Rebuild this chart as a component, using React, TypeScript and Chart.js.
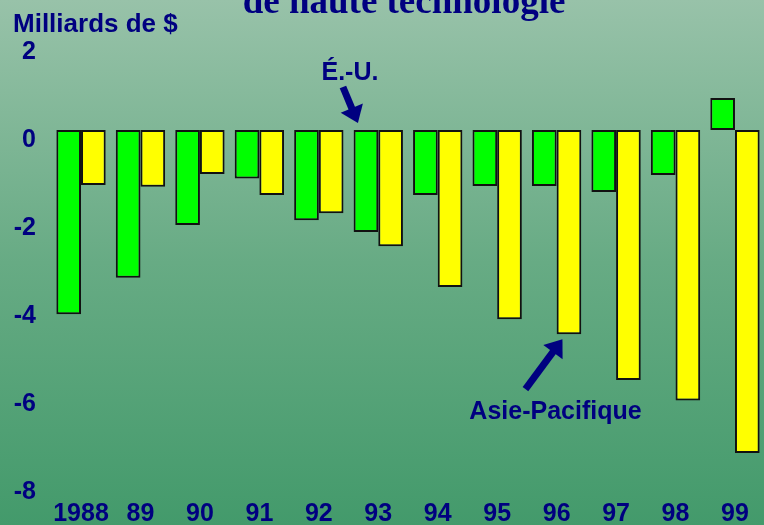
import React, { useEffect, useRef } from "react";
import { Chart, registerables } from "chart.js";

Chart.register(...registerables);

const categories = ["1988", "89", "90", "91", "92", "93", "94", "95", "96", "97", "98", "99"];
const usValues = [-4.19, -3.36, -2.16, -1.1, -2.05, -2.32, -1.48, -1.27, -1.27, -1.41, -1.02, 0.73];
const asiaValues = [-1.25, -1.29, -1.0, -1.48, -1.89, -2.64, -3.57, -4.3, -4.64, -5.68, -6.15, -7.34];
const yMin = -8;
const yMax = 2;
const yStep = 2;

const titleText = "de haute technologie";
const yAxisText = "Milliards de $";
const usLabel = "É.-U.";
const asiaLabel = "Asie-Pacifique";

const NAVY = "#000080";
const SANS = "'Liberation Sans', Arial, sans-serif";

function drawArrow(ctx: CanvasRenderingContext2D, fx: number, fy: number, tx: number, ty: number) {
  const ang = Math.atan2(ty - fy, tx - fx);
  const headLen = 16;
  const headW = 12;
  const bx = tx - Math.cos(ang) * headLen;
  const by = ty - Math.sin(ang) * headLen;
  ctx.save();
  ctx.strokeStyle = NAVY;
  ctx.fillStyle = NAVY;
  ctx.lineWidth = 7;
  ctx.lineCap = "butt";
  ctx.beginPath();
  ctx.moveTo(fx, fy);
  ctx.lineTo(bx + Math.cos(ang) * 2, by + Math.sin(ang) * 2);
  ctx.stroke();
  ctx.beginPath();
  ctx.moveTo(tx, ty);
  ctx.lineTo(bx + Math.cos(ang + Math.PI / 2) * headW, by + Math.sin(ang + Math.PI / 2) * headW);
  ctx.lineTo(bx + Math.cos(ang - Math.PI / 2) * headW, by + Math.sin(ang - Math.PI / 2) * headW);
  ctx.closePath();
  ctx.fill();
  ctx.restore();
}

const decorPlugin = {
  id: "decor",
  beforeDraw(chart: any) {
    const { ctx, width, height } = chart;
    const g = ctx.createLinearGradient(0, 0, 0, height);
    g.addColorStop(0, "#98c2a9");
    g.addColorStop(0.5, "#67ab84");
    g.addColorStop(1, "#439a6b");
    ctx.save();
    ctx.fillStyle = g;
    ctx.fillRect(0, 0, width, height);
    ctx.restore();
  },
  afterDraw(chart: any) {
    const { ctx } = chart;
    const yScale = chart.scales.y;
    ctx.save();
    // title (cut off at top)
    ctx.fillStyle = NAVY;
    ctx.font = "bold 37px 'Liberation Serif', 'Times New Roman', serif";
    ctx.textAlign = "center";
    ctx.textBaseline = "alphabetic";
    ctx.fillText(titleText, 404, 13);
    // y axis caption
    ctx.font = `bold 26px ${SANS}`;
    ctx.textAlign = "left";
    ctx.fillText(yAxisText, 13, 32);

    // É.-U. annotation anchored to 1993 green bar
    const zero = yScale.getPixelForValue(0);
    const usBar = chart.getDatasetMeta(0).data[5];
    if (usBar) {
      const tx = usBar.x - 8;
      const ty = zero - 7;
      drawArrow(ctx, tx - 15, ty - 36, tx, ty);
      ctx.font = `bold 25px ${SANS}`;
      ctx.textAlign = "center";
      ctx.textBaseline = "middle";
      ctx.fillStyle = NAVY;
      ctx.fillText(usLabel, tx - 8, ty - 50);
    }
    // Asie-Pacifique annotation anchored to 1996 yellow bar
    const asBar = chart.getDatasetMeta(1).data[8];
    if (asBar) {
      const tx = asBar.x - 6.5;
      const ty = asBar.y + 5;
      drawArrow(ctx, tx - 37, ty + 50, tx, ty);
      ctx.font = `bold 25px ${SANS}`;
      ctx.textAlign = "center";
      ctx.textBaseline = "middle";
      ctx.fillStyle = NAVY;
      ctx.fillText(asiaLabel, tx - 7, ty + 73);
    }
    ctx.restore();
  },
};

export default function App() {
  const ref = useRef<HTMLCanvasElement | null>(null);

  useEffect(() => {
    document.body.style.margin = "0";
    document.body.style.overflow = "hidden";
    if (!ref.current) return;
    const chart = new Chart(ref.current, {
      type: "bar",
      data: {
        labels: categories,
        datasets: [
          {
            label: usLabel,
            data: usValues,
            backgroundColor: "#00ff00",
            borderColor: "#111111",
            borderWidth: 2,
            borderSkipped: false,
          },
          {
            label: asiaLabel,
            data: asiaValues,
            backgroundColor: "#ffff00",
            borderColor: "#111111",
            borderWidth: 2,
            borderSkipped: false,
          },
        ],
      },
      options: {
        animation: false,
        responsive: true,
        maintainAspectRatio: false,
        devicePixelRatio: 1,
        layout: { padding: { left: 11.3, right: 5.3, top: 42, bottom: 0 } },
        datasets: { bar: { barPercentage: 1, categoryPercentage: 0.83 } },
        plugins: {
          legend: { display: false },
          tooltip: { enabled: false },
          title: { display: false },
        },
        scales: {
          x: {
            grid: { display: false, drawTicks: false },
            border: { display: false },
            ticks: {
              color: NAVY,
              font: { family: SANS, size: 25, weight: "bold" },
              padding: 17,
              maxRotation: 0,
              autoSkip: false,
            },
            afterFit(scale: any) {
              scale.height = 43;
            },
          },
          y: {
            min: yMin,
            max: yMax,
            grid: { display: false, drawTicks: false },
            border: { display: false },
            ticks: {
              stepSize: yStep,
              color: NAVY,
              font: { family: SANS, size: 25, weight: "bold" },
              padding: 15.3,
              labelOffset: 10,
            },
            afterFit(scale: any) {
              scale.width = 40;
            },
          },
        },
      },
      plugins: [decorPlugin],
    });
    return () => chart.destroy();
  }, []);

  return (
    <div style={{ position: "fixed", left: 0, top: 0, width: 770, height: 525 }}>
      <canvas ref={ref} />
    </div>
  );
}
